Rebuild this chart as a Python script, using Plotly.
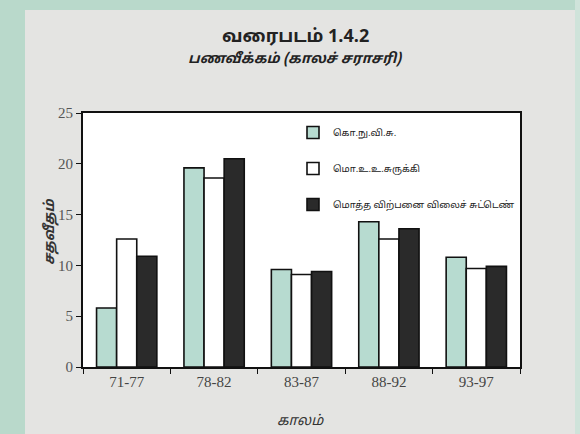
import plotly.graph_objects as go

categories = ["71-77", "78-82", "83-87", "88-92", "93-97"]
series_names = ["கொ.நு.வி.சு.", "மொ.உ.உ.சுருக்கி", "மொத்த விற்பனை விலைச் சுட்டெண்"]
cpi = [5.8, 19.6, 9.6, 14.3, 10.8]
gdp_deflator = [12.6, 18.6, 9.1, 12.6, 9.7]
wpi = [10.9, 20.5, 9.4, 13.6, 9.9]
y_ticks = [0, 5, 10, 15, 20, 25]

colors = ["#b7dbd0", "#ffffff", "#2a2a2a"]
tamil = "Noto Sans Tamil, Lohit Tamil, Noto Serif Tamil, Noto Sans, sans-serif"
serif = "Liberation Serif, Times New Roman, serif"

W, H = 580, 434
L, R, T, B = 83, 60, 113, 67
plot_w = W - L - R
plot_h = H - T - B


def px_x(x):
    return (x - L) / plot_w


def px_y(y):
    return (H - B - y) / plot_h


fig = go.Figure()
for i, (name, vals) in enumerate(zip(series_names, [cpi, gdp_deflator, wpi])):
    fig.add_trace(go.Bar(
        x=categories, y=vals, name=name, legendgroup=f"g{i}",
        marker=dict(color=colors[i], line=dict(color="#111111", width=1.6)),
    ))

fig.update_layout(
    width=W, height=H,
    margin=dict(l=L, r=R, t=T, b=B),
    paper_bgcolor="#e4e4e2",
    plot_bgcolor="#ffffff",
    barmode="group", bargap=0.31, bargroupgap=0,
    showlegend=True,
    legend=dict(x=px_x(293), y=px_y(118), xanchor="left", yanchor="top",
                bgcolor="rgba(255,255,255,0)", borderwidth=0,
                font=dict(family=tamil, size=9.5, color="#222222"),
                tracegroupgap=17, itemwidth=30),
    shapes=[
        dict(type="rect", xref="paper", yref="paper", x0=px_x(-10), x1=px_x(25),
             y0=px_y(450), y1=px_y(-10), fillcolor="#b9d9cb", line=dict(width=0), layer="below"),
        dict(type="rect", xref="paper", yref="paper", x0=px_x(-10), x1=px_x(590),
             y0=px_y(10), y1=px_y(-10), fillcolor="#b9d9cb", line=dict(width=0), layer="below"),
        dict(type="rect", xref="paper", yref="paper", x0=px_x(575), x1=px_x(590),
             y0=px_y(450), y1=px_y(-10), fillcolor="#cfe3da", line=dict(width=0), layer="below"),
    ],
)

fig.add_annotation(text="<b>வரைபடம் 1.4.2</b>", x=px_x(295), y=px_y(37),
                   xref="paper", yref="paper", showarrow=False,
                   xanchor="center", yanchor="middle",
                   font=dict(family=tamil, size=18, color="#222222"))
fig.add_annotation(text="<b><i>பணவீக்கம் (காலச் சராசரி)</i></b>", x=px_x(295), y=px_y(60),
                   xref="paper", yref="paper", showarrow=False,
                   xanchor="center", yanchor="middle",
                   font=dict(family=tamil, size=14, color="#222222"))
fig.add_annotation(text="<i>காலம்</i>", x=px_x(300), y=px_y(421),
                   xref="paper", yref="paper", showarrow=False,
                   xanchor="center", yanchor="middle",
                   font=dict(family=tamil, size=14, color="#333333"))
fig.add_annotation(text="<i><b>சதவீதம்</b></i>", x=px_x(50), y=px_y(232),
                   xref="paper", yref="paper", showarrow=False, textangle=-90,
                   xanchor="center", yanchor="middle",
                   font=dict(family=tamil, size=14, color="#333333"))

fig.update_xaxes(
    showline=True, linecolor="#111111", linewidth=2, mirror=True,
    ticks="outside", ticklen=5, tickcolor="#111111", tickson="boundaries",
    tickfont=dict(family=serif, size=15, color="#444444"),
    showgrid=False,
)
fig.update_yaxes(
    range=[0, 25], tickvals=y_ticks,
    showline=True, linecolor="#111111", linewidth=2, mirror=True,
    ticks="outside", ticklen=5, tickcolor="#111111",
    tickfont=dict(family=serif, size=15, color="#555555"),
    showgrid=False, zeroline=False,
)

fig.write_html("out.html", config={"displayModeBar": False},
               post_script="document.body.style.margin='0';")
